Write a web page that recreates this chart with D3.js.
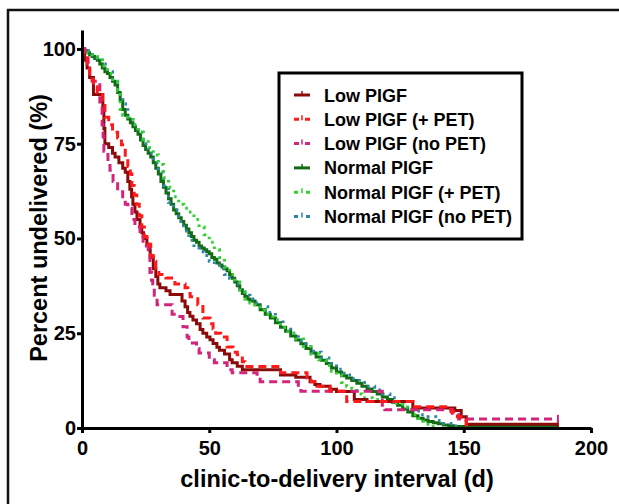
<!DOCTYPE html>
<html>
<head>
<meta charset="utf-8">
<script src="https://cdn.jsdelivr.net/npm/d3@7"></script>
<style>
  html, body { margin: 0; padding: 0; background: #fff; }
  svg { display: block; font-family: "Liberation Sans", Arial, sans-serif; }
  .axis path, .axis line { stroke: #000; stroke-width: 3; }
  .axis text { font-size: 20px; font-weight: bold; fill: #000; }
  .axis-title { font-size: 23.5px; font-weight: bold; fill: #000; }
  .legend-label { font-size: 18px; font-weight: bold; fill: #000; }
  .km { fill: none; stroke-width: 3; }
</style>
</head>
<body>
<svg id="chart" width="619" height="504"></svg>
<script>
// ── Survival data: [day, percent undelivered] at each step ──
const lowPlgf = [
  [0,100],[1,97],[2,95],[3,92.5],[4.5,88],[8.2,84],[8.6,79],[9,75],[10.5,74],[12,72.5],
  [13,71.5],[14.5,70],[16,68.5],[17,67.5],[18,65],[18.8,63],[19.5,61],[20,59],[20.8,57],
  [21.6,55],[22.8,53],[23.5,51.5],[24.2,50],[25.5,48.5],[26.2,47],[26.8,45],[28,42],[29,40],
  [29.8,38],[30.6,37],[33,36.2],[34.6,35.2],[39.3,33.5],[40.5,32],[41.5,30.5],[42.4,29.5],
  [43.6,28.5],[45,27.5],[46.4,26],[47.5,25],[49,24],[50.3,23.3],[51.5,22.3],[53,21.3],
  [54,20.5],[56,19.5],[58,18],[59,17.2],[61,16.3],[63,15.4],[78,14],[84,13.4],[89.6,12.2],
  [91.5,11.5],[93.5,11],[97.4,10.2],[100,9.6],[107,7.5],[112,7],[130,5.3],[146.5,4.6],
  [149,3],[151,1],[187,1]
];
const lowPlgfPet = [
  [0,100],[0.5,98.5],[2,96],[3,92],[4.5,90],[6,88],[8,86],[9,82],[10.5,80],[12,78],
  [14,76.5],[15.5,74.7],[17,71.3],[18,69],[19,67],[19.6,64],[20.5,61.5],[21.5,59],[22.5,56],
  [23.5,53],[24.5,50.5],[25.5,48.5],[27,45.5],[28,44],[29,42],[30.2,40.5],[33,39.6],
  [36.5,38],[40.5,37],[41.6,35.5],[42.5,34.6],[45.5,32.5],[47.5,29],[50.3,27.5],[51.5,26.2],
  [52.5,25],[54.5,24],[57,21.4],[59.3,20],[61,19.3],[63,17.5],[64,16.2],[78,14.6],
  [88.4,13.2],[90,12.2],[92.3,11],[97.5,9.7],[104,7],[130,5.6],[145,4.3],[147.5,3],
  [149,2],[151,0.8],[152,0.8]
];
const lowPlgfNoPet = [
  [0,100],[1.2,97.7],[2.4,96],[3,93],[4,91.5],[7,86],[7.9,80],[8.3,77],[8.6,73],[10.2,70],
  [11,68],[12.2,65],[14,62.3],[16,60.5],[17,59],[18,58],[19.6,55],[20.8,53],[22.8,50.5],
  [24,48],[26,46],[26.7,41],[27.3,39],[27.8,37],[28.4,35],[29.5,32.5],[35.4,30],[37.7,29.4],
  [39.7,26.7],[41.3,24],[42,22.4],[45,21],[46,19.8],[50,18],[52,17.2],[57,15.4],[59,14.6],
  [68.8,13.5],[70,12.2],[85,10.6],[86,9.7],[118,5.6],[119,4.8],[145.5,3.5],[148,2.4],[187,2.4]
];
const normalPlgf = [
  [0,100],[1,99.5],[2,99],[3,98.5],[4,98],[5,97.5],[6,97],[7,96],[8,95],[9,94],[10,93.5],
  [11,92.5],[12,91.5],[13,90.5],[14,88.5],[15,86.5],[16,84],[17,82.5],[18,81.5],[19,80.5],
  [20,79.5],[21,78.5],[22,77.5],[23,76],[24,74.5],[25,73.5],[26,72.5],[27,71.5],[28,70],
  [29,68.5],[30,67],[31,65],[32,63.5],[33,62],[34,60.5],[35,59],[36,57.5],[37,56.5],
  [38,55.5],[39,54.5],[40,53.5],[41,52.5],[42,51.5],[43,50.5],[44,49.5],[45,49],[46,48],
  [47,47.5],[48,47],[49,46.5],[50,46],[51,45],[52,44.5],[53,43.5],[54,43],[55,42.5],
  [56,42],[57,41.5],[58,40.5],[59,39.5],[60,38.5],[61,37.5],[62,36.5],[63,35.5],[64,34.7],
  [65,34],[66,33.5],[68,32.5],[70,31.2],[72,30],[74,29],[76,27.8],[78,26.6],[80,25.5],
  [82,24.3],[84,23.2],[86,22.2],[88,21],[90,19.8],[92,18.7],[94,17.9],[96,17],[98,15.8],
  [100,14.8],[102,13.8],[104,13.2],[106,12.5],[108,11.8],[110,11],[112,10.3],[114,9.6],
  [116,9],[118,8.2],[120,7.5],[122,6.8],[124,6],[126,5],[128,4.2],[130,3.2],[132,2.6],
  [134,2.1],[136,1.7],[138,1.4],[140,1.1],[142,0.8],[144,0.6],[146,0.4],[187,0.4]
];
const normalPlgfPet = [
  [0,100],[2,99],[4,98],[6,97],[8,95.5],[10,93.5],[12,91.5],[14,89],[15,84],[16,82.5],
  [18,82],[20,80],[22,78],[24,76],[26,74],[28,72],[30,69.5],[32,66],[34,63.5],[36,61],
  [38,59],[40,58],[42,57],[44,55],[46,53],[48,51],[50,49],[52,47],[54,45],[56,42.5],
  [58,40.5],[60,38.5],[62,36],[64,34],[66,33],[68,32.5],[70,31],[72,30],[75,28.5],
  [78,26.5],[81,25],[84,23.5],[87,21.5],[90,19.5],[93,18],[96,16.5],[98,15],[100,14],
  [102,12],[104,11],[106,10.5],[108,9],[110,8],[114,7.5],[118,7],[122,6.5],[126,5.5],
  [128,5],[130,3.5],[132,2.5],[134,1.8],[136,1],[138,0.3],[140,0]
];
const normalPlgfNoPet = [
  [0,100],[2,99.5],[4,98.5],[6,97.5],[8,96],[10,94],[12,92],[14,88],[16,85.5],[18,82],
  [20,80],[22,78],[24,75],[26,72.5],[28,70],[30,67.5],[32,64],[34,59.5],[36,57.5],
  [38,54.5],[40,52],[42,49.5],[44,47.5],[46,46.5],[48,45.5],[50,44],[52,43],[54,42],
  [56,40.5],[58,39.5],[60,38],[62,36.5],[64,35],[66,34],[68,33],[70,32],[73,30.5],
  [76,28.5],[79,26.5],[82,25],[85,23],[88,21.5],[91,20],[94,18.5],[97,17],[100,15.5],
  [103,14],[106,13],[109,12],[112,11],[115,10],[118,9],[121,8],[124,7],[127,5.5],
  [130,4.5],[133,3.5],[136,3],[139,2],[142,1.2],[145,0.5],[148,0]
];

// ── Series names, colours and dash patterns ──
const seriesNames = [
  "Low PIGF", "Low PIGF (+ PET)", "Low PIGF (no PET)",
  "Normal PIGF", "Normal PIGF (+ PET)", "Normal PIGF (no PET)"
];
const seriesData = [lowPlgf, lowPlgfPet, lowPlgfNoPet, normalPlgf, normalPlgfPet, normalPlgfNoPet];
const seriesColors = ["#8b0a0a", "#ff1a1a", "#d1247a", "#136b13", "#2ed12e", "#2d86a8"];
const seriesDash = [null, "8,5", "8,5", null, "2.5,5", "2.5,5"];

// ── Axis ticks ──
const xTicks = [0, 50, 100, 150, 200];
const yTicks = [0, 25, 50, 75, 100];

// ── Scales ──
const x = d3.scaleLinear().domain([0, 200]).range([82, 591]);
const y = d3.scaleLinear().domain([0, 105]).range([428, 30]);

const svg = d3.select("#chart");

// ── Outer frame (runs off the right and bottom of the picture) ──
svg.append("rect")
  .attr("x", 8)
  .attr("y", 10)
  .attr("width", 700)
  .attr("height", 600)
  .attr("fill", "none")
  .attr("stroke", "#111")
  .attr("stroke-width", 2.5);

// ── Curves (draw order: normal group first, low group on top) ──
const line = d3.line()
  .x(d => x(d[0]))
  .y(d => y(d[1]))
  .curve(d3.curveStepAfter);

const drawOrder = [3, 5, 4, 0, 2, 1];
drawOrder.forEach(i => {
  svg.append("path")
    .attr("class", "km")
    .attr("d", line(seriesData[i]))
    .attr("stroke", seriesColors[i])
    .attr("stroke-dasharray", seriesDash[i]);
});

// censor ticks at the end of the long tails
[0, 2].forEach(i => {
  const last = seriesData[i][seriesData[i].length - 1];
  svg.append("line")
    .attr("x1", x(last[0])).attr("x2", x(last[0]))
    .attr("y1", y(last[1]) - 4).attr("y2", y(last[1]) + 4)
    .attr("stroke", seriesColors[i])
    .attr("stroke-width", 2);
});

// ── Axes ──
svg.append("g")
  .attr("class", "axis")
  .attr("transform", "translate(82,0)")
  .call(d3.axisLeft(y).tickValues(yTicks).tickSize(5).tickSizeOuter(0).tickPadding(1));

svg.append("g")
  .attr("class", "axis")
  .attr("transform", "translate(0,428)")
  .call(d3.axisBottom(x).tickValues(xTicks).tickSize(5).tickSizeOuter(0).tickPadding(8));

// ── Axis titles ──
svg.append("text")
  .attr("class", "axis-title")
  .attr("text-anchor", "middle")
  .attr("x", 337)
  .attr("y", 487)
  .text("clinic-to-delivery interval (d)");

svg.append("text")
  .attr("class", "axis-title")
  .attr("text-anchor", "middle")
  .attr("transform", "translate(47,228) rotate(-90)")
  .text("Percent undelivered (%)");

// ── Legend ──
const legend = svg.append("g").attr("transform", "translate(279,73)");

legend.append("rect")
  .attr("width", 243)
  .attr("height", 166)
  .attr("fill", "#fff")
  .attr("stroke", "#000")
  .attr("stroke-width", 3);

const legendRows = legend.selectAll(".legend-row")
  .data(seriesNames)
  .join("g")
  .attr("class", "legend-row")
  .attr("transform", (d, i) => `translate(0,${22 + i * 24.3})`);

legendRows.append("line")
  .attr("x1", 15)
  .attr("x2", 31)
  .attr("stroke", (d, i) => seriesColors[i])
  .attr("stroke-width", 3)
  .attr("stroke-dasharray", (d, i) => i % 3 === 0 ? null : (i < 3 ? "5,6" : "4,8"));

legendRows.append("line")
  .attr("x1", 23)
  .attr("x2", 23)
  .attr("y1", -4)
  .attr("y2", 1)
  .attr("stroke", (d, i) => seriesColors[i])
  .attr("stroke-width", 1.5);

legendRows.append("text")
  .attr("class", "legend-label")
  .attr("x", 45)
  .attr("y", 6.5)
  .text(d => d);
</script>
</body>
</html>
